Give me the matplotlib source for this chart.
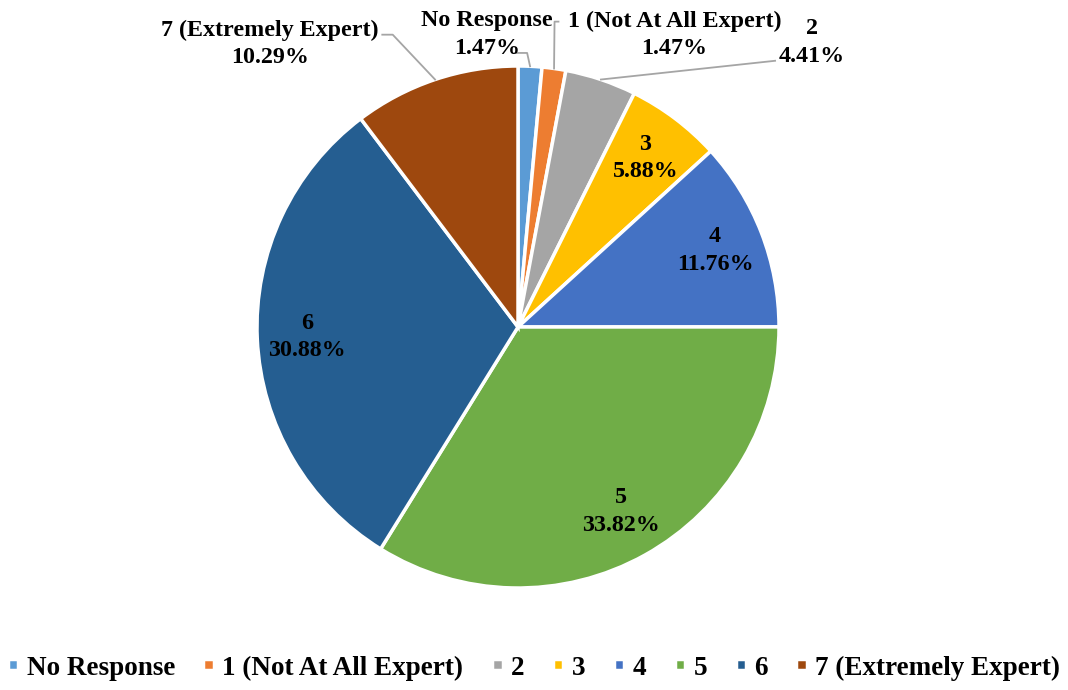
import numpy as np
import matplotlib
matplotlib.use("Agg")
import matplotlib.pyplot as plt

categories = ["No Response", "1 (Not At All Expert)", "2", "3", "4", "5", "6", "7 (Extremely Expert)"]
values = [1.47, 1.47, 4.41, 5.88, 11.76, 33.82, 30.88, 10.29]
colors = ["#5B9BD5", "#ED7D31", "#A5A5A5", "#FFC000", "#4472C4", "#70AD47", "#255E91", "#9E480E"]

plt.rcParams['font.family'] = ['Liberation Serif', 'DejaVu Serif']

W, H = 1068, 690
fig = plt.figure(figsize=(W / 100, H / 100), dpi=100)
cx, cy, R = 518, 327, 261
ax = fig.add_axes([(cx - R) / W, (H - cy - R) / H, 2 * R / W, 2 * R / H])

wedges, _ = ax.pie(values, colors=colors, startangle=90, counterclock=False,
                   radius=1.0, wedgeprops=dict(edgecolor="white", linewidth=2.5))
ax.set_xlim(-1, 1)
ax.set_ylim(-1, 1)
ax.set_aspect('equal')
ax.axis('off')

total = sum(values)
cum = np.cumsum([0] + values)
mids = [90 - 360 * (cum[i] + values[i] / 2) / total for i in range(len(values))]

lab_fs = 17.3
ls = 1.4
# inside labels
for i in [3, 4, 5, 6]:
    a = np.deg2rad(mids[i])
    r = 0.81
    ax.text(r * np.cos(a), r * np.sin(a), f"{categories[i]}\n{values[i]:.2f}%",
            ha='center', va='center', fontsize=lab_fs, fontweight='bold', linespacing=ls)

# outside labels: (text position, leader path points before wedge)
outside = {
    0: ((-0.12, 1.12), [(-0.005, 1.05), (0.035, 1.05)]),
    1: ((0.6, 1.12), [(0.155, 1.17), (0.14, 1.17)]),
    2: ((1.125, 1.09), [(0.985, 1.02)]),
    7: ((-0.95, 1.085), [(-0.52, 1.12), (-0.48, 1.12)]),
}
for i, (tpos, path) in outside.items():
    ax.text(tpos[0], tpos[1], f"{categories[i]}\n{values[i]:.2f}%",
            ha='center', va='center', fontsize=lab_fs, fontweight='bold', linespacing=ls,
            clip_on=False)
    a = np.deg2rad(mids[i])
    end = (1.0 * np.cos(a), 1.0 * np.sin(a))
    xs = [p[0] for p in path] + [end[0]]
    ys = [p[1] for p in path] + [end[1]]
    ax.plot(xs, ys, color="#A5A5A5", lw=1.3, clip_on=False)

fig.legend(wedges, categories, loc='center', bbox_to_anchor=(0.5, 1 - 668 / H),
           ncol=8, frameon=False, handlelength=0.4, handleheight=0.24,
           handletextpad=0.3, columnspacing=1.05,
           prop=dict(family='Liberation Serif', weight='bold', size=19.5))

fig.savefig("out.png", dpi=100)
